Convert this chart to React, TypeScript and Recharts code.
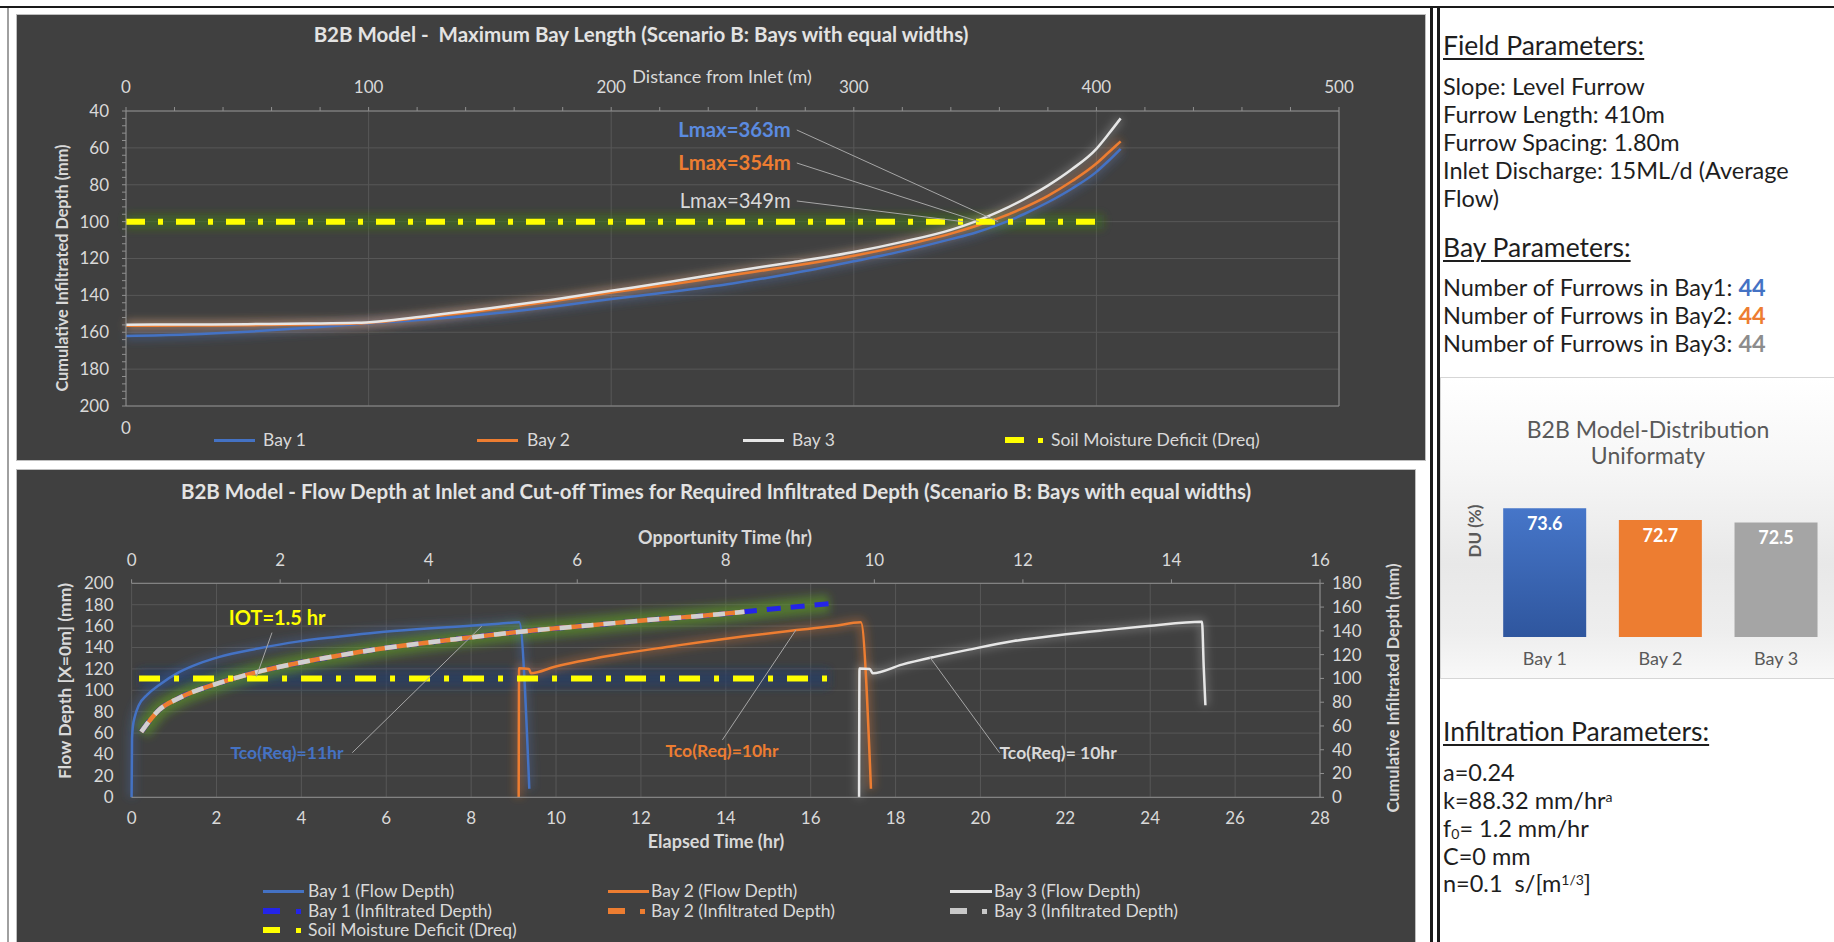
import React from "react";
import {
  LineChart,
  Line,
  XAxis,
  YAxis,
  CartesianGrid,
  ReferenceLine,
  ReferenceDot,
  BarChart,
  Bar,
  Cell,
  LabelList,
} from "recharts";

const FONT = "Lato, 'Open Sans', sans-serif";
const PANEL = "#404040";
const GRID = "#575757";
const AXIS = "#8F8F8F";
const TICK = "#D9D9D9";
const BLUE = "#4472C4";
const ORANGE = "#ED7D31";
const LIGHT = "#E6E6E6";
const YELLOW = "#FFFF00";
const DEEP_BLUE = "#2424E8";
const LEADER = "#A6A6A6";

// ---- top chart: cumulative infiltrated depth along the furrow
const distance = [0, 25, 50, 75, 95, 125, 150, 175, 200, 225, 250, 275, 300, 320, 340, 350, 360, 370, 380, 390, 400, 405, 410];
const bay1Depth = [162, 161.2, 159.7, 157.6, 155.6, 153, 150, 146.3, 142, 138, 133.5, 128, 121.5, 116, 109.5, 106, 101.5, 96, 89.5, 82, 73, 67, 60.5];
const bay2Depth = [156.5, 156.4, 156.2, 155.8, 155.3, 151.6, 147.8, 143.3, 138.5, 134, 129, 124, 118.5, 113, 106.5, 102.5, 98, 92.5, 86, 78, 68.5, 62.5, 56.5];
const bay3Depth = [155.9, 155.8, 155.6, 155.3, 154.9, 151, 147, 142.5, 137.5, 132.5, 127, 122, 116.5, 111, 104.5, 100, 94.5, 88, 80.5, 71.5, 60.5, 52.5, 44];
const dreqDistance = [0, 403];
const dreqDepth = [100, 100];
const lmaxLabels = ["Lmax=363m", "Lmax=354m", "Lmax=349m"];
const lmaxEnds = [359.5, 351.5, 345];

const distanceTicks = [0, 100, 200, 300, 400, 500];
const distanceMinor = Array.from({ length: 26 }, (_, i) => i * 20);
const depthTicks = [40, 60, 80, 100, 120, 140, 160, 180, 200];
const depthMinor = Array.from({ length: 41 }, (_, i) => 40 + i * 4);

// ---- bottom chart: flow depth at inlet (elapsed time) and infiltrated depth (opportunity time)
const bay1FlowTime = [0, 0.01, 0.03, 0.08, 0.17, 0.37, 0.65, 1.12, 1.58, 2.05, 2.98, 3.91, 4.85, 5.78, 6.71, 7.64, 8.57, 9.13, 9.37];
const bay1FlowDepth = [0, 55, 66, 76, 86, 96, 105, 117, 125, 131, 139, 145.5, 150, 154, 157, 159.5, 162, 163.5, 8];
const bay2FlowTime = [9.12, 9.13, 9.36, 9.41, 9.97, 11.37, 12.77, 13.39, 14.44, 15.49, 16.54, 17.18, 17.42];
const bay2FlowDepth = [0, 120.5, 120, 116, 122, 133, 141.4, 145, 150.5, 155.5, 160, 163.5, 8];
const bay3FlowTime = [17.14, 17.15, 17.39, 17.46, 18.15, 18.89, 19.73, 20.78, 21.83, 22.89, 23.94, 25.22, 25.26, 25.3];
const bay3FlowDepth = [0, 120.3, 120, 116, 124, 131, 138, 146, 151.5, 156, 160, 164, 122, 86];

const oppTime = [0.13, 0.37, 0.64, 1.17, 1.7, 2.24, 2.77, 3.3, 3.83, 4.36, 4.9, 5.43, 5.96, 6.49, 7.03, 7.65, 8.25, 8.73, 9.39];
const bay1Infil = [55, 73.5, 83.5, 96, 105.5, 113, 119, 124.5, 129, 133, 137, 140.5, 143.5, 146.5, 149.5, 152.5, 156, 159, 162.8];
const bay2Infil = [55, 73.5, 83.5, 96, 105.5, 113, 119, 124.5, 129, 133, 137, 140.5, 143.5, 146.5, 149.5, 152.5, 156];
const bay3Infil = [55, 73.5, 83.5, 96, 105.5, 113, 119, 124.5, 129, 133, 137, 140.5, 143.5, 146.5, 149.5, 152.5, 156];
const dreqOpp = [0.1, 9.39];
const dreqInfil = [100, 100];

const oppTicks = [0, 2, 4, 6, 8, 10, 12, 14, 16];
const elapsedTicks = [0, 2, 4, 6, 8, 10, 12, 14, 16, 18, 20, 22, 24, 26, 28];
const flowTicks = [0, 20, 40, 60, 80, 100, 120, 140, 160, 180, 200];
const infilTicks = [0, 20, 40, 60, 80, 100, 120, 140, 160, 180];

// ---- distribution uniformity
const duBays = ["Bay 1", "Bay 2", "Bay 3"];
const duValues = [73.6, 72.7, 72.5];
const duFills = ["url(#duBlue)", ORANGE, "#A5A5A5"];

// ---- parameters text
const fieldParams = ["Slope: Level Furrow", "Furrow Length: 410m", "Furrow Spacing: 1.80m", "Inlet Discharge: 15ML/d (Average", "Flow)"];
const furrowCounts = [44, 44, 44];
const furrowColors = [BLUE, ORANGE, "#8C8C8C"];

const rows = (xs: number[], ys: number[]) => xs.map((x, i) => ({ x, y: ys[i] }));

const tickText = (major: number | null, anchor: "start" | "middle" | "end", dy: string) => (props: any) => {
  const { x, y, payload } = props;
  const v = payload.value;
  if (major !== null && Math.abs(v % major) > 1e-6) return <g />;
  return (
    <text x={x} y={y} dy={dy} textAnchor={anchor} fill={TICK} fontSize={17} fontFamily={FONT}>
      {v}
    </text>
  );
};

const noteLabel = (text: string, color: string, size: number, weight: number, anchor: "start" | "middle" | "end") => (props: any) => {
  const vb = props.viewBox || {};
  const cx = (vb.x ?? 0) + (vb.width ?? 0) / 2;
  const cy = (vb.y ?? 0) + (vb.height ?? 0) / 2;
  return (
    <text x={cx} y={cy} dy="0.35em" textAnchor={anchor} fill={color} fontSize={size} fontWeight={weight} fontFamily={FONT}>
      {text}
    </text>
  );
};

const common = { dot: false, activeDot: false, isAnimationActive: false, type: "monotone" as const, dataKey: "y" };

function Key(p: { x: number; y: number; color: string; label: string; kind: "solid" | "dashdot"; w?: number; textX: number; size?: number; dash?: number; dot?: number }) {
  const w = p.w ?? 41;
  return (
    <>
      {p.kind === "solid" ? (
        <div style={{ position: "absolute", left: p.x, top: p.y - 1.5, width: w, height: 3, background: p.color }} />
      ) : (
        <>
          <div style={{ position: "absolute", left: p.x, top: p.y - 3, width: p.dash ?? 18, height: 6, background: p.color }} />
          <div style={{ position: "absolute", left: p.dot ?? p.x + 32, top: p.y - 2.5, width: 5, height: 5, background: p.color }} />
        </>
      )}
      <div style={{ position: "absolute", left: p.textX, top: p.y - 11, lineHeight: "22px", fontSize: p.size ?? 17.5, color: TICK, whiteSpace: "nowrap" }}>
        {p.label}
      </div>
    </>
  );
}

function TopChart() {
  const b1 = rows(distance, bay1Depth);
  const b2 = rows(distance, bay2Depth);
  const b3 = rows(distance, bay3Depth);
  const dq = rows(dreqDistance, dreqDepth);
  const lmaxColors = ["#5B8BE0", ORANGE, TICK];
  const textDepth = [50.3, 68.2, 88.8];
  return (
    <div style={{ position: "absolute", left: 17, top: 15, width: 1408, height: 445, background: PANEL, outline: "1px solid #BFBFBF" }}>
      <div style={{ position: "absolute", left: 624, top: 7, transform: "translateX(-50%)", whiteSpace: "pre", fontSize: 20.5, fontWeight: 700, color: "#E3E3E3" }}>
        {"B2B Model -  Maximum Bay Length (Scenario B: Bays with equal widths)"}
      </div>
      <div style={{ position: "absolute", left: 705, top: 50, transform: "translateX(-50%)", whiteSpace: "nowrap", fontSize: 18, color: TICK }}>
        Distance from Inlet (m)
      </div>
      <div style={{ position: "absolute", left: 44, top: 253, transform: "translate(-50%,-50%) rotate(-90deg)", whiteSpace: "nowrap", fontSize: 16.3, fontWeight: 700, color: TICK }}>
        Cumulative Infiltrated Depth (mm)
      </div>
      <div style={{ position: "absolute", left: 0, top: 0 }}>
        <LineChart width={1408} height={445} margin={{ top: 66, right: 26, bottom: 24, left: 49 }}>
          <CartesianGrid xAxisId="top" yAxisId="left" stroke={GRID} horizontalValues={depthTicks} verticalValues={distanceTicks} />
          <XAxis xAxisId="top" orientation="top" type="number" dataKey="x" domain={[0, 500]} ticks={distanceMinor} interval={0} height={30}
            axisLine={{ stroke: AXIS }} tickLine={{ stroke: AXIS }} tickSize={4} tickMargin={14} tick={tickText(100, "middle", "0")} />
          <XAxis xAxisId="bot" orientation="bottom" type="number" dataKey="x" domain={[0, 500]} ticks={[0]} interval={0} height={30}
            axisLine={{ stroke: AXIS }} tickLine={false} tickSize={0} tickMargin={16} tick={tickText(null, "middle", "0.71em")} />
          <YAxis yAxisId="left" reversed type="number" domain={[40, 200]} ticks={depthMinor} interval={0} width={60}
            axisLine={{ stroke: AXIS }} tickLine={{ stroke: AXIS }} tickSize={4} tickMargin={13} tick={tickText(20, "end", "0.35em")} />
          <YAxis yAxisId="right" orientation="right" reversed type="number" domain={[40, 200]} ticks={depthMinor} interval={0} width={60}
            axisLine={{ stroke: AXIS }} tickLine={{ stroke: AXIS }} tickSize={4} tickMargin={14} tick={tickText(20, "start", "0.35em")} />

          <Line {...common} xAxisId="bot" yAxisId="left" data={dq} type="linear" stroke="#3F7A1A" strokeWidth={14} strokeOpacity={0.55} className="glow" />
          <Line {...common} xAxisId="top" yAxisId="left" data={b1} stroke={BLUE} strokeWidth={9} strokeOpacity={0.35} className="glow" />
          <Line {...common} xAxisId="top" yAxisId="left" data={b2} stroke={ORANGE} strokeWidth={9} strokeOpacity={0.35} className="glow" />
          <Line {...common} xAxisId="top" yAxisId="left" data={b3} stroke={LIGHT} strokeWidth={7} strokeOpacity={0.25} className="glow" />

          <Line {...common} xAxisId="top" yAxisId="left" data={b1} stroke={BLUE} strokeWidth={2.5} />
          <Line {...common} xAxisId="top" yAxisId="left" data={b2} stroke={ORANGE} strokeWidth={2.5} />
          <Line {...common} xAxisId="top" yAxisId="left" data={b3} stroke={LIGHT} strokeWidth={2.5} />
          <Line {...common} xAxisId="top" yAxisId="left" data={dq} type="linear" stroke={YELLOW} strokeWidth={6} strokeDasharray="19 13 5 13" />

          {lmaxLabels.map((t, i) => (
            <ReferenceLine key={"l" + i} xAxisId="top" yAxisId="left" stroke={LEADER} strokeWidth={1}
              segment={[{ x: 276.5, y: textDepth[i] }, { x: lmaxEnds[i], y: 100 }]} />
          ))}
          {lmaxLabels.map((t, i) => (
            <ReferenceDot key={"t" + i} xAxisId="top" yAxisId="left" x={274} y={textDepth[i]} r={0} fill="none" stroke="none"
              label={noteLabel(t, lmaxColors[i], 20.3, i < 2 ? 700 : 400, "end")} />
          ))}
        </LineChart>
      </div>
      <Key x={197} y={425} color={BLUE} label="Bay 1" kind="solid" textX={246} />
      <Key x={460} y={425} color={ORANGE} label="Bay 2" kind="solid" textX={510} />
      <Key x={726} y={425} color={LIGHT} label="Bay 3" kind="solid" textX={775} />
      <Key x={988} y={425} color={YELLOW} label="Soil Moisture Deficit (Dreq)" kind="dashdot" dash={19} dot={1021} textX={1034} />
    </div>
  );
}

function BottomChart() {
  const f1 = rows(bay1FlowTime, bay1FlowDepth);
  const f2 = rows(bay2FlowTime, bay2FlowDepth);
  const f3 = rows(bay3FlowTime, bay3FlowDepth);
  const i1 = rows(oppTime, bay1Infil);
  const i2 = rows(oppTime.slice(0, bay2Infil.length), bay2Infil);
  const i3 = rows(oppTime.slice(0, bay3Infil.length), bay3Infil);
  const dq = rows(dreqOpp, dreqInfil);
  return (
    <div style={{ position: "absolute", left: 17, top: 470, width: 1398, height: 472, background: PANEL, outline: "1px solid #BFBFBF" }}>
      <div style={{ position: "absolute", left: 699, top: 9, transform: "translateX(-50%)", whiteSpace: "nowrap", fontSize: 20.5, fontWeight: 700, color: "#E3E3E3" }}>
        B2B Model - Flow Depth at Inlet and Cut-off Times for Required Infiltrated Depth (Scenario B: Bays with equal widths)
      </div>
      <div style={{ position: "absolute", left: 708, top: 56, transform: "translateX(-50%)", whiteSpace: "nowrap", fontSize: 18, fontWeight: 700, color: TICK }}>
        Opportunity Time (hr)
      </div>
      <div style={{ position: "absolute", left: 699, top: 360, transform: "translateX(-50%)", whiteSpace: "nowrap", fontSize: 18, fontWeight: 700, color: TICK }}>
        Elapsed Time (hr)
      </div>
      <div style={{ position: "absolute", left: 47, top: 211, transform: "translate(-50%,-50%) rotate(-90deg)", whiteSpace: "nowrap", fontSize: 17.6, fontWeight: 700, color: TICK }}>
        Flow Depth [X=0m] (mm)
      </div>
      <div style={{ position: "absolute", left: 1375, top: 218, transform: "translate(-50%,-50%) rotate(-90deg)", whiteSpace: "nowrap", fontSize: 16.4, fontWeight: 700, color: TICK }}>
        Cumulative Infiltrated Depth (mm)
      </div>
      <div style={{ position: "absolute", left: 0, top: 0 }}>
        <LineChart width={1398} height={400} margin={{ top: 83.3, right: 35, bottom: 42.7, left: 54.6 }}>
          <CartesianGrid xAxisId="elapsed" yAxisId="left" stroke={GRID} />
          <XAxis xAxisId="opp" orientation="top" type="number" dataKey="x" domain={[0, 16]} ticks={oppTicks} interval={0} height={30}
            axisLine={{ stroke: AXIS }} tickLine={{ stroke: AXIS }} tickSize={4} tickMargin={13} tick={tickText(null, "middle", "0")} />
          <XAxis xAxisId="elapsed" orientation="bottom" type="number" dataKey="x" domain={[0, 28]} ticks={elapsedTicks} interval={0} height={30}
            axisLine={{ stroke: AXIS }} tickLine={false} tickSize={0} tickMargin={15} tick={tickText(null, "middle", "0.71em")} />
          <YAxis yAxisId="left" type="number" domain={[0, 200]} ticks={flowTicks} interval={0} width={60}
            axisLine={false} tickLine={false} tickSize={0} tickMargin={18} tick={tickText(null, "end", "0.35em")} />
          <YAxis yAxisId="right" orientation="right" type="number" domain={[0, 180]} ticks={infilTicks} interval={0} width={60}
            axisLine={{ stroke: AXIS }} tickLine={{ stroke: AXIS }} tickSize={4} tickMargin={8} tick={tickText(null, "start", "0.35em")} />

          <Line {...common} xAxisId="opp" yAxisId="right" data={dq} type="linear" stroke="#1F3A6E" strokeWidth={18} strokeOpacity={0.6} className="glow" />
          <Line {...common} xAxisId="opp" yAxisId="right" data={i1} stroke="#5E9A2A" strokeWidth={18} strokeOpacity={0.6} className="glow" />
          <Line {...common} xAxisId="elapsed" yAxisId="left" data={f1} stroke={BLUE} strokeWidth={8} strokeOpacity={0.3} className="glow" />
          <Line {...common} xAxisId="elapsed" yAxisId="left" data={f2} stroke={ORANGE} strokeWidth={8} strokeOpacity={0.35} className="glow" />
          <Line {...common} xAxisId="elapsed" yAxisId="left" data={f3} stroke={LIGHT} strokeWidth={7} strokeOpacity={0.25} className="glow" />

          <Line {...common} xAxisId="elapsed" yAxisId="left" data={f1} stroke={BLUE} strokeWidth={2.5} />
          <Line {...common} xAxisId="elapsed" yAxisId="left" data={f2} stroke={ORANGE} strokeWidth={2.5} />
          <Line {...common} xAxisId="elapsed" yAxisId="left" data={f3} stroke={LIGHT} strokeWidth={2.5} />

          <Line {...common} xAxisId="opp" yAxisId="right" data={i1} stroke={DEEP_BLUE} strokeWidth={5} strokeDasharray="14 10" />
          <Line {...common} xAxisId="opp" yAxisId="right" data={i2} stroke={ORANGE} strokeWidth={4.5} />
          <Line {...common} xAxisId="opp" yAxisId="right" data={i3} stroke="#D0D0D0" strokeWidth={4.5} strokeDasharray="12 10" />
          <Line {...common} xAxisId="opp" yAxisId="right" data={dq} type="linear" stroke={YELLOW} strokeWidth={6} strokeDasharray="21 14 5 14" />

          <ReferenceLine xAxisId="opp" yAxisId="right" stroke={LEADER} segment={[{ x: 1.89, y: 138.5 }, { x: 1.68, y: 101.5 }]} />
          <ReferenceDot xAxisId="opp" yAxisId="right" x={1.96} y={150.5} r={0} fill="none" stroke="none" label={noteLabel("IOT=1.5 hr", YELLOW, 20, 700, "middle")} />

          <ReferenceLine xAxisId="elapsed" yAxisId="left" stroke={LEADER} segment={[{ x: 5.2, y: 41.7 }, { x: 8.25, y: 160 }]} />
          <ReferenceDot xAxisId="elapsed" yAxisId="left" x={3.66} y={41.7} r={0} fill="none" stroke="none" label={noteLabel("Tco(Req)=11hr", BLUE, 17.5, 700, "middle")} />
          <ReferenceLine xAxisId="elapsed" yAxisId="left" stroke={LEADER} segment={[{ x: 13.92, y: 53.6 }, { x: 15.65, y: 156.3 }]} />
          <ReferenceDot xAxisId="elapsed" yAxisId="left" x={13.91} y={43.3} r={0} fill="none" stroke="none" label={noteLabel("Tco(Req)=10hr", ORANGE, 17.5, 700, "middle")} />
          <ReferenceLine xAxisId="elapsed" yAxisId="left" stroke={LEADER} segment={[{ x: 20.45, y: 41.7 }, { x: 18.81, y: 130.8 }]} />
          <ReferenceDot xAxisId="elapsed" yAxisId="left" x={21.83} y={41.7} r={0} fill="none" stroke="none" label={noteLabel("Tco(Req)= 10hr", TICK, 17.5, 700, "middle")} />
        </LineChart>
      </div>
      <Key x={246} y={421} color={BLUE} label="Bay 1 (Flow Depth)" kind="solid" w={41} textX={291} />
      <Key x={591} y={421} color={ORANGE} label="Bay 2 (Flow Depth)" kind="solid" w={41} textX={634} />
      <Key x={933} y={421} color={LIGHT} label="Bay 3 (Flow Depth)" kind="solid" w={42} textX={977} />
      <Key x={246} y={441} color={DEEP_BLUE} label="Bay 1 (Infiltrated Depth)" kind="dashdot" dash={17} dot={279} textX={291} />
      <Key x={591} y={441} color={ORANGE} label="Bay 2 (Infiltrated Depth)" kind="dashdot" dash={17} dot={623} textX={634} />
      <Key x={933} y={441} color="#C8C8C8" label="Bay 3 (Infiltrated Depth)" kind="dashdot" dash={17} dot={965} textX={977} />
      <Key x={246} y={460} color={YELLOW} label="Soil Moisture Deficit (Dreq)" kind="dashdot" dash={17} dot={279} textX={291} />
    </div>
  );
}

function DuCard() {
  const data = duBays.map((b, i) => ({ bay: b, du: duValues[i] }));
  return (
    <div style={{ position: "absolute", left: 1440, top: 377, width: 400, height: 300, border: "1px solid #D6D6D6",
      background: "linear-gradient(180deg, #FFFFFF 0%, #F6F6F6 30%, #E8E8E8 62%, #EEEEEE 85%, #F8F8F8 100%)" }}>
      <div style={{ position: "absolute", left: 207, top: 38, transform: "translateX(-50%)", textAlign: "center", fontSize: 23, lineHeight: "26px", color: "#595959", whiteSpace: "nowrap" }}>
        B2B Model-Distribution
        <br />
        Uniformaty
      </div>
      <div style={{ position: "absolute", left: 33, top: 153, transform: "translate(-50%,-50%) rotate(-90deg)", fontSize: 17, fontWeight: 700, color: "#595959", whiteSpace: "nowrap" }}>
        DU (%)
      </div>
      <div style={{ position: "absolute", left: -1, top: -1 }}>
        <BarChart width={394} height={300} data={data} margin={{ top: 113, right: 0, bottom: 10, left: 47 }} barCategoryGap="14%">
          <XAxis dataKey="bay" axisLine={false} tickLine={false} height={30} tickSize={0} tickMargin={15}
            tick={{ fill: "#595959", fontSize: 18, fontFamily: FONT }} />
          <YAxis hide type="number" domain={[63.7, 75]} />
          <Bar dataKey="du" isAnimationActive={false}>
            {data.map((d, i) => (
              <Cell key={d.bay} fill={duFills[i]} />
            ))}
            <LabelList dataKey="du" position="insideTop" offset={9} fill="#FFFFFF" fontSize={18} fontWeight={700} fontFamily={FONT} />
          </Bar>
        </BarChart>
      </div>
    </div>
  );
}

const heading: React.CSSProperties = {
  position: "absolute", left: 1443, fontSize: 26.5, lineHeight: "30px", color: "#1E1E1E", whiteSpace: "nowrap",
  textDecoration: "underline", textDecorationThickness: "2px", textUnderlineOffset: "3px",
};
const body: React.CSSProperties = { position: "absolute", left: 1443, fontSize: 23.5, lineHeight: "28px", height: 28, color: "#1E1E1E", whiteSpace: "nowrap" };
const supStyle: React.CSSProperties = { fontSize: 14, lineHeight: 0, verticalAlign: "0.5em" };
const subStyle: React.CSSProperties = { fontSize: 14, lineHeight: 0, verticalAlign: "-0.15em" };

export default function App() {
  return (
    <div style={{ position: "absolute", left: 0, top: 0, width: 1834, height: 942, background: "#FFFFFF", overflow: "hidden", fontFamily: FONT }}>
      <style>{`.glow path{filter:url(#glowBlur);}`}</style>
      <svg width={0} height={0} style={{ position: "absolute" }}>
        <defs>
          <filter id="glowBlur" filterUnits="userSpaceOnUse" x={-200} y={-200} width={2000} height={1000}>
            <feGaussianBlur stdDeviation={4} />
          </filter>
          <linearGradient id="duBlue" x1="0" y1="0" x2="0" y2="1">
            <stop offset="0%" stopColor="#4676C9" />
            <stop offset="100%" stopColor="#2F569E" />
          </linearGradient>
        </defs>
      </svg>

      {/* frame */}
      <div style={{ position: "absolute", left: 0, top: 6, width: 1834, height: 2, background: "#1A1A1A" }} />
      <div style={{ position: "absolute", left: 7, top: 8, width: 2, height: 934, background: "#A0A0A0" }} />
      <div style={{ position: "absolute", left: 1430, top: 6, width: 3, height: 936, background: "#1A1A1A" }} />
      <div style={{ position: "absolute", left: 1437, top: 6, width: 3, height: 936, background: "#1A1A1A" }} />

      <TopChart />
      <BottomChart />

      {/* parameters */}
      <div style={{ ...heading, top: 30 }}>Field Parameters:</div>
      {fieldParams.map((t, i) => (
        <div key={t} style={{ ...body, top: 72 + i * 28 }}>{t}</div>
      ))}
      <div style={{ ...heading, top: 232 }}>Bay Parameters:</div>
      {furrowCounts.map((n, i) => (
        <div key={i} style={{ ...body, top: 273 + i * 28 }}>
          Number of Furrows in Bay{i + 1}: <span style={{ color: furrowColors[i], fontWeight: 700 }}>{n}</span>
        </div>
      ))}

      <DuCard />

      <div style={{ ...heading, top: 716 }}>Infiltration Parameters:</div>
      <div style={{ ...body, top: 758 }}>a=0.24</div>
      <div style={{ ...body, top: 786 }}>
        k=88.32 mm/hr<span style={supStyle}>a</span>
      </div>
      <div style={{ ...body, top: 814 }}>
        f<span style={subStyle}>0</span>= 1.2 mm/hr
      </div>
      <div style={{ ...body, top: 842 }}>C=0 mm</div>
      <div style={{ ...body, top: 869, whiteSpace: "pre" }}>
        {"n=0.1  s/[m"}
        <span style={supStyle}>1/3</span>
        {"]"}
      </div>
    </div>
  );
}
